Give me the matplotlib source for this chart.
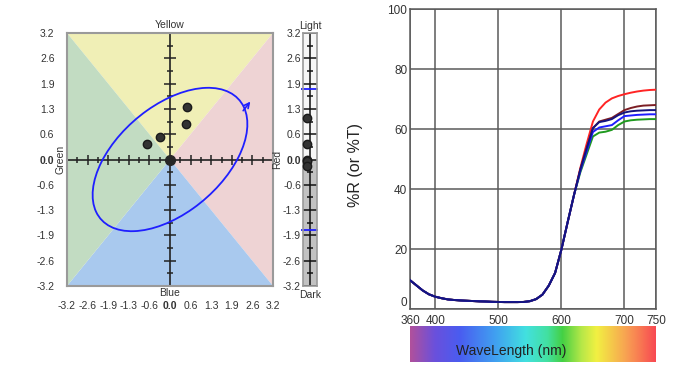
import numpy as np
import matplotlib
matplotlib.use("Agg")
import matplotlib.pyplot as plt
from matplotlib.patches import Polygon, Ellipse
from matplotlib.colors import LinearSegmentedColormap

plt.rcParams['font.family'] = ['Liberation Sans', 'DejaVu Sans']
plt.rcParams['axes.unicode_minus'] = False

# ---- colour-difference scale -------------------------------------------
scale_ticks = [-3.2, -2.56, -1.92, -1.28, -0.64, 0.0, 0.64, 1.28, 1.92, 2.56, 3.2]
scale_labels = ["-3.2", "-2.6", "-1.9", "-1.3", "-0.6", "0.0",
                "0.6", "1.3", "1.9", "2.6", "3.2"]
half_ticks = [-2.88, -2.24, -1.6, -0.96, -0.32, 0.32, 0.96, 1.6, 2.24, 2.88]

# ---- samples relative to the standard ----------------------------------
standard_da, standard_db, standard_dL = 0.0, 0.0, 0.0
sample_da = [0.52, 0.49, -0.32, -0.70]
sample_db = [1.33, 0.90, 0.56, 0.40]
sample_dL = [1.05, 0.40, -0.05, -0.16]

# tolerance ellipse (a*, b*) and lightness tolerance
tol_width = 5.3
tol_height = 2.86
tol_angle = 30.0
tol_L = 1.78

# ---- reflectance spectra -------------------------------------------------
wavelengths = np.arange(360, 751, 10)
shared_360_620 = [9.6, 7.9, 6.2, 4.9, 4.1, 3.6, 3.2, 3.0, 2.85, 2.75,
                  2.65, 2.55, 2.5, 2.4, 2.35, 2.3, 2.3, 2.3, 2.35, 2.6,
                  3.3, 4.8, 7.8, 12.0, 19.8, 29.0, 38.0]
red_630_750 = [47.0, 55.0, 62.5, 66.5, 68.8, 70.2, 71.0, 71.6, 72.1, 72.5, 72.8, 73.0, 73.1]
maroon_630_750 = [46.5, 53.5, 60.3, 62.5, 63.1, 63.7, 65.0, 66.3, 67.0, 67.5, 67.8, 67.9, 68.0]
navy_630_750 = [46.5, 53.5, 60.3, 62.3, 62.7, 63.3, 64.6, 65.5, 65.9, 66.1, 66.2, 66.3, 66.3]
blue_630_750 = [46.0, 52.5, 59.0, 60.5, 60.9, 61.3, 62.9, 64.3, 64.5, 64.7, 64.8, 64.9, 64.9]
green_630_750 = [45.5, 51.5, 57.5, 58.8, 59.1, 59.7, 61.3, 62.5, 62.9, 63.1, 63.2, 63.3, 63.3]

spectra = [
    (shared_360_620 + red_630_750, '#ff2424'),
    (shared_360_620 + green_630_750, '#1f9a1f'),
    (shared_360_620 + maroon_630_750, '#7c1e24'),
    (shared_360_620 + blue_630_750, '#1e1eff'),
    (shared_360_620 + navy_630_750, '#14147e'),
]

BLUE = '#1f1fff'
INK = '#222222'

W, H = 680, 366
fig = plt.figure(figsize=(W / 100, H / 100), dpi=100)


def px_axes(x0, y0, x1, y1):
    return fig.add_axes([x0 / W, 1 - y1 / H, (x1 - x0) / W, (y1 - y0) / H])


# ======================= a*/b* chromaticity diagram =======================
ax = px_axes(67, 33, 273, 286)
lim = 3.2
ax.set_xlim(-lim, lim)
ax.set_ylim(-lim, lim)
quadrants = [
    ([(-lim, lim), (lim, lim), (0, 0)], '#f0efb6'),    # yellow
    ([(lim, lim), (lim, -lim), (0, 0)], '#eed3d4'),    # red
    ([(lim, -lim), (-lim, -lim), (0, 0)], '#a9c9ee'),  # blue
    ([(-lim, -lim), (-lim, lim), (0, 0)], '#c2dcc2'),  # green
]
for verts, col in quadrants:
    ax.add_patch(Polygon(verts, closed=True, facecolor=col, edgecolor='none', zorder=0))

ax.axhline(0, color=INK, lw=1.2, zorder=2)
ax.axvline(0, color=INK, lw=1.2, zorder=2)
major_nz = [t for t in scale_ticks if t != 0.0]
ax.plot(major_nz, [0] * len(major_nz), ls='none', marker='|', ms=7.5, mew=1.1, color=INK, zorder=2)
ax.plot(half_ticks, [0] * len(half_ticks), ls='none', marker='|', ms=5, mew=1.1, color=INK, zorder=2)
ax.plot([0] * len(major_nz), major_nz, ls='none', marker='_', ms=8.5, mew=1.1, color=INK, zorder=2)
ax.plot([0] * len(half_ticks), half_ticks, ls='none', marker='_', ms=5, mew=1.1, color=INK, zorder=2)

ax.add_patch(Ellipse((standard_da, standard_db), tol_width, tol_height, angle=tol_angle,
                     fill=False, edgecolor=BLUE, lw=1.3, zorder=3))
ax.annotate('', xy=(2.55, 1.52), xytext=(2.22, 1.18),
            arrowprops=dict(arrowstyle='->', color=BLUE, lw=1.2, mutation_scale=9), zorder=3)

ax.plot(sample_da, sample_db, 'o', ms=6, color='#333333', mec='#1a1a1a', zorder=4)
ax.plot([standard_da], [standard_db], 'o', ms=7, color='#262626', zorder=4)

ax.set_xticks(scale_ticks)
ax.set_xticklabels(scale_labels)
ax.set_yticks(scale_ticks)
ax.set_yticklabels(scale_labels)
ax.tick_params(axis='x', length=0, pad=11, labelsize=7.5, colors='#333333')
ax.tick_params(axis='y', length=0, pad=9, labelsize=7.5, colors='#333333')
for lbl in ax.get_xticklabels() + ax.get_yticklabels():
    if lbl.get_text() == '0.0':
        lbl.set_fontweight('bold')
for sp in ax.spines.values():
    sp.set_color('#9a9a9a')
    sp.set_linewidth(1.5)

ax.text(0.5, 1 + 3 / 253, 'Yellow', transform=ax.transAxes, ha='center', va='bottom',
        fontsize=7.5, color='#333333')
ax.text(0.5, -7 / 253, 'Blue', transform=ax.transAxes, ha='center', va='center',
        fontsize=7.5, color='#333333')
ax.text(-7 / 206, 0.5, 'Green', transform=ax.transAxes, ha='center', va='center',
        rotation=90, fontsize=7.5, color='#333333')
ax.text(1 + 4 / 206, 0.5, 'Red', transform=ax.transAxes, ha='center', va='center',
        rotation=90, fontsize=7.5, color='#333333')

# ============================ lightness bar ==============================
axl = px_axes(303, 33, 317, 286)
axl.set_xlim(-1, 1)
axl.set_ylim(-lim, lim)
axl.axhspan(0, lim, color='#f6f6f6', zorder=0)
axl.axhspan(-lim, 0, color='#c2c2c2', zorder=0)
axl.axvline(0, color='#111111', lw=1.1, zorder=1)
axl.hlines(scale_ticks, -1, 1, color='#111111', lw=1.1, zorder=1)
axl.hlines(half_ticks, -0.4, 0.4, color='#111111', lw=1.1, zorder=1)
axl.hlines([tol_L, -tol_L], -1.25, 1.2, color=BLUE, lw=1.3, zorder=2, clip_on=False)
axl.plot([-0.45] * (len(sample_dL) + 1), [standard_dL] + sample_dL, 'o', ms=6,
         color='#333333', mec='#1a1a1a', zorder=3, clip_on=False)
axl.set_xticks([])
axl.set_yticks(scale_ticks)
axl.set_yticklabels(scale_labels)
axl.tick_params(axis='y', length=0, pad=1.5, labelsize=7.5, colors='#333333')
for lbl in axl.get_yticklabels():
    if lbl.get_text() == '0.0':
        lbl.set_fontweight('bold')
for sp in axl.spines.values():
    sp.set_color('#9a9a9a')
    sp.set_linewidth(1.2)
axl.text(0.5, 1 + 2 / 253, 'Light', transform=axl.transAxes, ha='center', va='bottom',
         fontsize=7.5, color='#333333')
axl.text(0.5, -9 / 253, 'Dark', transform=axl.transAxes, ha='center', va='center',
         fontsize=7.5, color='#333333')

# ============================ spectral plot ==============================
axs = px_axes(410, 9, 656, 309)
axs.set_xlim(360, 750)
axs.set_ylim(0, 100)
for values, col in spectra:
    axs.plot(wavelengths, values, color=col, lw=1.4, zorder=3)
axs.set_xticks([360, 400, 500, 600, 700, 750])
axs.set_yticks([0, 20, 40, 60, 80, 100])
axs.grid(True, color='#5a5a5a', lw=1.1, zorder=1)
axs.tick_params(axis='both', length=0, labelsize=8.5, colors='#333333')
axs.tick_params(axis='x', pad=4)
axs.tick_params(axis='y', pad=2)
axs.get_yticklabels()[0].set_verticalalignment('bottom')
for sp in axs.spines.values():
    sp.set_color('#5a5a5a')
    sp.set_linewidth(1.1)
axs.set_ylabel('%R (or %T)', fontsize=11.5, color=INK)
axs.yaxis.set_label_coords(-0.19, 0.48)

# ============================ wavelength bar =============================
axr = px_axes(410, 326, 656, 362)
rainbow = LinearSegmentedColormap.from_list('spectrum', [
    (0.00, '#b0509c'), (0.10, '#6a50dc'), (0.20, '#4a5cf0'), (0.35, '#40a2f0'),
    (0.47, '#42e0e0'), (0.56, '#42e0a0'), (0.62, '#44d044'), (0.70, '#b8e848'),
    (0.76, '#f2f042'), (0.88, '#f8a252'), (1.00, '#f84a52')])
axr.imshow(np.linspace(0, 1, 256)[None, :], aspect='auto', cmap=rainbow,
           extent=[360, 750, 0, 1])
axr.axis('off')
axr.text(0.413, 0.3, 'WaveLength (nm)', transform=axr.transAxes, ha='center',
         va='center', fontsize=10, color=INK)

fig.savefig('out.png', dpi=100)
